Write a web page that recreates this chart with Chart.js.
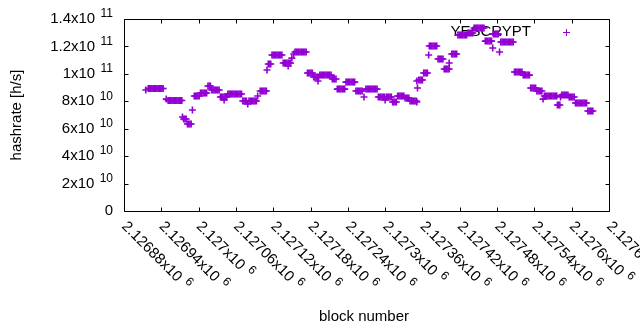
<!DOCTYPE html>
<html><head><meta charset="utf-8">
<script src="https://cdn.jsdelivr.net/npm/chart.js@4.4.1/dist/chart.umd.min.js"></script>
<style>html,body{margin:0;padding:0;background:#fff}#wrap{width:640px;height:330px}</style>
</head><body><div id="wrap"><canvas id="c" width="640" height="330"></canvas></div>
<script>
const seriesName = "YESCRYPT";
const xTitle = "block number";
const yTitle = "hashrate [h/s]";

// block numbers (one entry per plotted point)
const blocks = [
2126915,
2126919,2126921,2126923,2126925,2126927,2126929,2126931,2126933,2126935,2126937,2126939,2126941,2126943,
2126948,
2126951,2126953,2126955,2126957,2126959,2126961,2126963,2126965,2126967,2126969,2126971,2126973,
2126974,
2126976,2126978,2126980,
2126982,2126984,2126986,2126988,
2126990,
2126993,2126995,2126997,2126999,2127001,
2127003,2127005,2127007,2127009,2127011,2127013,
2127015,2127017,2127019,
2127021,2127023,2127025,2127027,2127029,2127031,2127033,
2127035,2127037,2127039,2127041,2127043,2127045,
2127041,
2127047,2127049,2127051,2127053,2127055,2127057,2127059,2127061,2127063,2127065,2127067,2127069,
2127071,2127073,2127075,2127077,
2127079,
2127081,2127083,2127085,2127087,2127089,2127091,2127093,
2127095,
2127099,2127101,2127103,2127105,2127107,2127109,
2127110,
2127112,2127114,2127116,
2127118,2127120,2127122,2127124,2127126,2127128,2127130,2127132,2127134,
2127136,2127138,2127140,2127142,2127144,2127146,2127148,
2127144,
2127150,
2127153,
2127155,2127157,2127159,2127161,2127163,2127165,2127167,2127169,2127171,2127173,
2127175,2127177,2127179,2127181,2127183,
2127185,2127187,2127189,2127191,2127193,
2127192,
2127195,2127197,2127199,2127201,2127203,2127205,2127207,2127209,2127211,2127213,
2127215,2127217,2127219,2127221,
2127223,2127225,2127227,2127229,2127231,2127233,2127235,
2127237,2127239,2127241,2127243,2127245,2127247,2127249,2127251,
2127253,2127255,2127257,2127259,2127261,2127263,
2127266,
2127269,2127271,2127273,2127275,2127277,2127279,2127281,2127283,2127285,2127287,
2127289,2127291,2127293,2127295,2127297,2127299,
2127300,
2127302,2127304,2127306,2127308,2127310,
2127312,2127314,2127316,2127318,
2127320,2127322,2127324,2127326,2127328,2127330,
2127332,2127334,2127336,2127338,
2127340,2127342,2127344,2127346,2127348,2127350,
2127351,
2127352,
2127351,
2127354,2127356,2127358,2127360,
2127362,2127364,2127366,2127368,
2127370,
2127371,2127373,2127375,2127377,2127379,2127381,2127383,
2127385,2127387,2127389,2127391,2127393,
2127395,2127397,2127399,2127401,2127403,
2127403,
2127407,2127409,2127411,2127413,2127415,
2127417,2127419,2127421,2127423,2127425,2127427,2127429,2127431,
2127433,2127435,2127437,2127439,2127441,
2127443,2127445,2127447,2127449,2127451,2127453,2127455,2127457,2127459,
2127461,2127463,2127465,2127467,2127469,2127471,
2127473,
2127474,2127476,2127478,2127480,2127482,
2127484,
2127486,2127488,2127490,2127492,2127494,2127496,2127498,2127500,2127502,2127504,2127506,
2127508,2127510,2127512,2127514,2127516,2127518,2127520,
2127522,2127524,2127526,2127528,2127530,2127532,
2127534,2127536,2127538,2127540,2127542,
2127544,2127546,2127548,2127550,2127552,
2127554,
2127556,2127558,2127560,2127562,2127564,2127566,2127568,2127570,2127572,2127574,2127576,
2127577,2127579,2127581,
2127582,
2127584,2127586,2127588,2127590,2127592,2127594,
2127596,2127598,2127600,2127602,2127604,
2127606,2127608,2127610,2127612,2127614,2127616,2127618,2127620,2127622,2127624,
2127626,2127628,2127630,2127632,2127634
];

// hashrate in GH/s, same order as blocks
const hashrateGH = [
88.2,
89.3,89.3,89.3,89.3,89.3,89.3,89.3,89.3,89.3,89.3,89.3,89.3,89.3,
81.6,
80.6,80.6,80.6,80.6,80.6,80.6,80.6,80.6,80.6,80.6,80.6,80.6,
68.5,
67.1,67.1,67.1,
63.4,63.4,63.4,63.4,
73.6,
83.8,83.8,83.8,83.8,83.8,
86.0,86.0,86.0,86.0,86.0,86.0,
91.2,91.2,91.2,
88.2,88.2,88.2,88.2,88.2,88.2,88.2,
83.1,83.1,83.1,83.1,83.1,83.1,
81.0,
85.3,85.3,85.3,85.3,85.3,85.3,85.3,85.3,85.3,85.3,85.3,85.3,
80.2,80.2,80.2,80.2,
78.0,
80.2,80.2,80.2,80.2,80.2,80.2,80.2,
83.8,
87.5,87.5,87.5,87.5,87.5,87.5,
102.8,
107.2,107.2,107.2,
113.7,113.7,113.7,113.7,113.7,113.7,113.7,113.7,113.7,
107.9,107.9,107.9,107.9,107.9,107.9,107.9,
105.7,
111.5,
114.5,
115.9,115.9,115.9,115.9,115.9,115.9,115.9,115.9,115.9,115.9,
100.6,100.6,100.6,100.6,100.6,
97.7,97.7,97.7,97.7,97.7,
94.8,
99.1,99.1,99.1,99.1,99.1,99.1,99.1,99.1,99.1,99.1,
96.2,96.2,96.2,96.2,
88.9,88.9,88.9,88.9,88.9,88.9,88.9,
94.0,94.0,94.0,94.0,94.0,94.0,94.0,94.0,
87.5,87.5,87.5,87.5,87.5,87.5,
83.1,
88.9,88.9,88.9,88.9,88.9,88.9,88.9,88.9,88.9,88.9,
83.1,83.1,83.1,83.1,83.1,83.1,
80.9,
83.1,83.1,83.1,83.1,83.1,
79.5,79.5,79.5,79.5,
83.8,83.8,83.8,83.8,83.8,83.8,
82.4,82.4,82.4,82.4,
80.2,80.2,80.2,80.2,80.2,80.2,
79.5,
89.7,
94.8,
95.5,95.5,95.5,95.5,
100.6,100.6,100.6,100.6,
113.7,
120.3,120.3,120.3,120.3,120.3,120.3,120.3,
110.8,110.8,110.8,110.8,110.8,
103.5,103.5,103.5,103.5,103.5,
107.9,
114.5,114.5,114.5,114.5,114.5,
128.3,128.3,128.3,128.3,128.3,128.3,128.3,128.3,
129.8,129.8,129.8,129.8,129.8,
133.4,133.4,133.4,133.4,133.4,133.4,133.4,133.4,133.4,
123.9,123.9,123.9,123.9,123.9,123.9,
118.8,
129.0,129.0,129.0,129.0,129.0,
115.9,
123.2,123.2,123.2,123.2,123.2,123.2,123.2,123.2,123.2,123.2,123.2,
101.3,101.3,101.3,101.3,101.3,101.3,101.3,
99.1,99.1,99.1,99.1,99.1,99.1,
89.7,89.7,89.7,89.7,89.7,
87.5,87.5,87.5,87.5,87.5,
81.6,
83.8,83.8,83.8,83.8,83.8,83.8,83.8,83.8,83.8,83.8,83.8,
77.3,77.3,77.3,
83.1,
84.6,84.6,84.6,84.6,84.6,84.6,
83.1,83.1,83.1,83.1,83.1,
78.7,78.7,78.7,78.7,78.7,78.7,78.7,78.7,78.7,78.7,
72.9,72.9,72.9,72.9,72.9
];

const xMin = 2126880, xMax = 2127660;
const yMin = 0, yMax = 1.4e11;
const xTicks = [2126880,2126940,2127000,2127060,2127120,2127180,2127240,2127300,2127360,2127420,2127480,2127540,2127600,2127660];
const xTickLabels = ["2.12688x10^6","2.12694x10^6","2.127x10^6","2.12706x10^6","2.12712x10^6","2.12718x10^6","2.12724x10^6","2.1273x10^6","2.12736x10^6","2.12742x10^6","2.12748x10^6","2.12754x10^6","2.1276x10^6","2.12766x10^6"];
const yTicks = [0,2e10,4e10,6e10,8e10,1e11,1.2e11,1.4e11];
const yTickLabels = ["0","2x10^10","4x10^10","6x10^10","8x10^10","1x10^11","1.2x10^11","1.4x10^11"];

const COLOR = '#9400d3';
const FONT = '"Liberation Sans", Arial, sans-serif';

function supParts(label){ const p = label.split('^'); return {m:p[0], e:p.length>1 ? ' '+p[1] : ''}; }

function drawCross(ctx, x, y, r){
  ctx.beginPath();
  ctx.moveTo(x-r, y); ctx.lineTo(x+r, y);
  ctx.moveTo(x, y-r); ctx.lineTo(x, y+r);
  ctx.stroke();
}

const gnuplotDeco = {
  id: 'gnuplotDeco',
  beforeDatasetsDraw(chart){
    const ctx = chart.ctx;
    ctx.save();
    ctx.fillStyle = '#000';
    ctx.font = '15px ' + FONT;
    ctx.textAlign = 'right';
    ctx.textBaseline = 'middle';
    ctx.fillText(seriesName, 531, 31.5);
    ctx.strokeStyle = COLOR; ctx.lineWidth = 1;
    drawCross(ctx, 566.5, 32.5, 3.5);
    ctx.restore();
  },
  afterDraw(chart){
    const ctx = chart.ctx, a = chart.chartArea;
    const xs = chart.scales.x, ys = chart.scales.y;
    const L = Math.round(a.left)+0.5, R = Math.round(a.right)+0.5, T = Math.round(a.top)+0.5, B = Math.round(a.bottom)+0.5;
    ctx.save();
    ctx.strokeStyle = '#000'; ctx.lineWidth = 1;
    ctx.beginPath();
    ctx.rect(L, T, R-L, B-T);
    const tl = 4;
    xTicks.forEach(v => {
      const px = Math.round(xs.getPixelForValue(v))+0.5;
      ctx.moveTo(px, B); ctx.lineTo(px, B-tl);
      ctx.moveTo(px, T); ctx.lineTo(px, T+tl);
    });
    yTicks.forEach(v => {
      const py = Math.round(ys.getPixelForValue(v))+0.5;
      ctx.moveTo(L, py); ctx.lineTo(L+tl, py);
      ctx.moveTo(R, py); ctx.lineTo(R-tl, py);
    });
    ctx.stroke();

    ctx.fillStyle = '#000';
    ctx.textBaseline = 'middle';
    ctx.textAlign = 'left';
    // y tick labels
    yTicks.forEach((v,i) => {
      const py = ys.getPixelForValue(v);
      const s = supParts(yTickLabels[i]);
      ctx.font = '15px ' + FONT; const wm = ctx.measureText(s.m).width;
      ctx.font = '12px ' + FONT; const we = s.e ? ctx.measureText(s.e).width + 2 : 0;
      const x0 = 113 - wm - we;
      ctx.font = '15px ' + FONT; ctx.fillText(s.m, x0, py);
      if (s.e){ ctx.font = '12px ' + FONT; ctx.fillText(s.e, x0+wm+2, py-5); }
    });
    // x tick labels, rotated
    xTicks.forEach((v,i) => {
      const px = xs.getPixelForValue(v);
      const s = supParts(xTickLabels[i]);
      ctx.save();
      ctx.translate(px, 224);
      ctx.rotate(Math.PI/4);
      ctx.font = '15px ' + FONT; const wm = ctx.measureText(s.m).width;
      ctx.fillText(s.m, 0, 0);
      if (s.e){ ctx.font = '12px ' + FONT; ctx.fillText(s.e, wm+2, -5); }
      ctx.restore();
    });
    // axis titles
    ctx.font = '15px ' + FONT;
    ctx.textAlign = 'center';
    ctx.fillText(xTitle, 364, 317);
    ctx.save();
    ctx.translate(17, 115);
    ctx.rotate(-Math.PI/2);
    ctx.fillText(yTitle, 0, 0);
    ctx.restore();
    ctx.restore();
  }
};

new Chart(document.getElementById('c'), {
  type: 'scatter',
  data: {
    datasets: [{
      label: seriesName,
      data: blocks.map((b,i) => ({x: b, y: hashrateGH[i]*1e9})),
      pointStyle: 'cross',
      radius: 3.5,
      hoverRadius: 3.5,
      borderWidth: 1.6,
      borderColor: COLOR,
      backgroundColor: COLOR
    }]
  },
  options: {
    responsive: false,
    animation: false,
    events: [],
    devicePixelRatio: 1,
    layout: { padding: { left: 124, right: 31, top: 19, bottom: 119 } },
    plugins: { legend: { display: false }, tooltip: { enabled: false }, title: { display: false } },
    scales: {
      x: { type: 'linear', min: xMin, max: xMax, display: false },
      y: { type: 'linear', min: yMin, max: yMax, display: false }
    }
  },
  plugins: [gnuplotDeco]
});
</script>
</body></html>
